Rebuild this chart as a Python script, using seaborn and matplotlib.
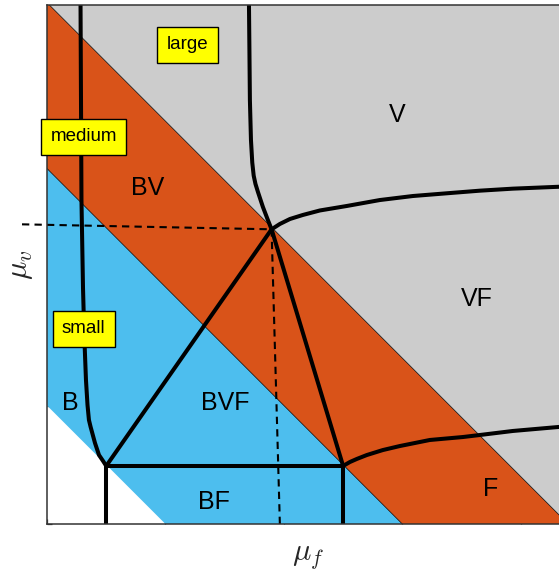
import numpy as np
import matplotlib
matplotlib.use("Agg")
import matplotlib.pyplot as plt
import seaborn as sns

# diagonal band edges: x + y = const
band_edges = [1.0, 3.0, 4.4]
band_colors = {"blue": "#4DBEEE", "orange": "#D95319", "gray": "#CCCCCC"}

# triple points
pt_A = (0.50, 0.49)
pt_B = (2.50, 0.49)
pt_C = (1.896, 2.487)

# boundary curves
left_x = [0.283, 0.287, 0.291, 0.304, 0.316, 0.329, 0.342, 0.354, 0.368, 0.380, 0.405, 0.439, 0.473, 0.50]
left_y = [4.40, 3.578, 2.734, 1.992, 1.553, 1.215, 1.004, 0.878, 0.820, 0.776, 0.684, 0.582, 0.532, 0.49]

top_x = [1.705, 1.709, 1.713, 1.722, 1.733, 1.745, 1.760, 1.781, 1.823, 1.865, 1.896]
top_y = [4.40, 4.000, 3.578, 3.241, 3.050, 2.940, 2.870, 2.802, 2.675, 2.565, 2.487]

vf_x = [1.896, 1.966, 2.051, 2.160, 2.304, 2.532, 2.810, 3.089, 3.376, 3.654, 3.932, 4.321, 4.50]
vf_y = [2.487, 2.532, 2.574, 2.608, 2.646, 2.684, 2.734, 2.768, 2.791, 2.813, 2.830, 2.846, 2.86]

f_x = [2.50, 2.557, 2.616, 2.700, 2.835, 2.979, 3.232, 3.511, 3.654, 3.932, 4.321, 4.50]
f_y = [0.49, 0.523, 0.549, 0.582, 0.624, 0.658, 0.709, 0.734, 0.751, 0.785, 0.819, 0.835]

# dashed guides from C
dash_h_x = [-0.211, 1.896]
dash_h_y = [2.529, 2.487]
dash_v_x = [1.896, 1.966]
dash_v_y = [2.487, 0.0]

# region labels (baseline positions)
region_names = ["V", "BV", "VF", "BVF", "B", "BF", "F"]
region_x = [2.958, 0.852, 3.633, 1.502, 0.194, 1.409, 3.743]
region_y = [3.392, 2.776, 1.840, 0.962, 0.962, 0.127, 0.236]

# yellow size labels
size_names = ["large", "medium", "small"]
size_x = [1.186, 0.310, 0.310]
size_y = [4.045, 3.269, 1.648]

sns.set_style("ticks")
plt.rcParams["font.family"] = ["Liberation Sans", "DejaVu Sans"]
plt.rcParams["mathtext.fontset"] = "cm"

fig = plt.figure(figsize=(5.59, 5.71), dpi=100)
ax = fig.add_axes([47 / 559, 47 / 571, 533 / 559, 519 / 571])

xx = np.array([-1.0, 6.0])
ax.fill_between(xx, band_edges[0] - xx, band_edges[1] - xx, color=band_colors["blue"], lw=0)
ax.fill_between(xx, band_edges[1] - xx, band_edges[2] - xx, color=band_colors["orange"], lw=0)
ax.fill_between(xx, band_edges[2] - xx, 10, color=band_colors["gray"], lw=0)
for c in band_edges[1:]:
    ax.plot(xx, c - xx, color="black", lw=0.5)

# dashed guides
ax.plot(dash_h_x, dash_h_y, color="black", lw=1.5, ls=(0, (3.5, 2.5)), clip_on=False)
ax.plot(dash_v_x, dash_v_y, color="black", lw=1.5, ls=(0, (3.5, 2.5)))

lw = 2.9
segments = [
    (left_x, left_y), (top_x, top_y), (vf_x, vf_y), (f_x, f_y),
    ([pt_A[0], pt_C[0]], [pt_A[1], pt_C[1]]),
    ([pt_B[0], pt_C[0]], [pt_B[1], pt_C[1]]),
    ([pt_A[0], pt_B[0]], [pt_A[1], pt_B[1]]),
    ([pt_A[0], pt_A[0]], [pt_A[1], 0.0]),
    ([pt_B[0], pt_B[0]], [pt_B[1], 0.0]),
]
for cx, cy in segments:
    sns.lineplot(x=cx, y=cy, sort=False, estimator=None, color="black",
                 linewidth=lw, solid_capstyle="butt", ax=ax)

for name, x, y in zip(region_names, region_x, region_y):
    ax.text(x, y, name, ha="center", va="baseline", fontsize=18, color="black")

for name, x, y in zip(size_names, size_x, size_y):
    ax.text(x, y, name, ha="center", va="center", fontsize=13.5, color="black",
            bbox=dict(boxstyle="square,pad=0.5", fc="#FFFF00", ec="black", lw=1.0))

ax.set_xlim(0, 4.5)
ax.set_ylim(0, 4.38)
ax.set_xticks([0, 1, 2, 3, 4])
ax.set_yticks([0, 1, 2, 3, 4])
ax.set_xticklabels([])
ax.set_yticklabels([])
ax.tick_params(direction="in", length=3.6, width=0.9, color="#333333", top=True, right=False)
for s in ["left", "bottom", "top"]:
    ax.spines[s].set_visible(True)
    ax.spines[s].set_color("#333333")
    ax.spines[s].set_linewidth(1.1)
ax.spines["right"].set_visible(False)
ax.set_xlabel("")
ax.set_ylabel("")

fig.text(308 / 559, 1 - 556 / 571, r"$\mu_f$", ha="center", va="center", fontsize=22)
fig.text(20 / 559, 1 - 265 / 571, r"$\mu_v$", ha="center", va="center", fontsize=22, rotation=90)

fig.savefig("out.png", dpi=100)
